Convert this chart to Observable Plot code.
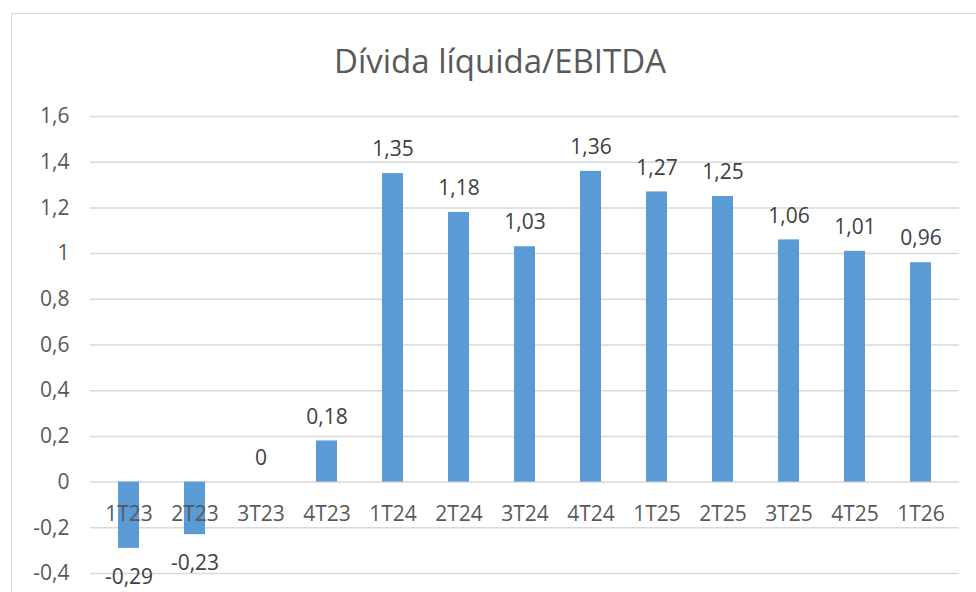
<!DOCTYPE html>
<html>
<head>
<meta charset="utf-8">
<script src="https://cdn.jsdelivr.net/npm/d3@7"></script>
<script src="https://cdn.jsdelivr.net/npm/@observablehq/plot@0.6"></script>
<style>
  html, body { margin: 0; padding: 0; background: #fff; overflow: hidden; width: 976px; height: 592px; }
  #frame { position: absolute; left: 11px; top: 13px; width: 1000px; height: 640px; border: 1.5px solid #d9d9d9; box-sizing: border-box; }
  #title { position: absolute; left: 0; top: 44px; width: 1000px; text-align: center; font-family: "Open Sans", sans-serif; font-size: 33px; line-height: 1; color: #595959; }
  #chart { position: absolute; left: 0; top: 0; }
</style>
</head>
<body>
<div id="frame"></div>
<div id="title">Dívida líquida/EBITDA</div>
<div id="chart"></div>
<script>
const categories = ["1T23", "2T23", "3T23", "4T23", "1T24", "2T24", "3T24", "4T24", "1T25", "2T25", "3T25", "4T25", "1T26"];
const values = [-0.29, -0.23, 0, 0.18, 1.35, 1.18, 1.03, 1.36, 1.27, 1.25, 1.06, 1.01, 0.96];
const yTicks = [-0.4, -0.2, 0, 0.2, 0.4, 0.6, 0.8, 1, 1.2, 1.4, 1.6];

const data = categories.map((c, i) => ({cat: c, value: values[i]}));
const fmt = d => String(+(+d).toFixed(2)).replace(".", ",");

const chart = Plot.plot({
  width: 976,
  height: 592,
  marginTop: 116,
  marginBottom: 19,
  marginLeft: 90,
  marginRight: 17,
  style: { fontFamily: "Open Sans, sans-serif", fontSize: "21px", color: "#595959", background: "transparent" },
  x: { domain: categories, paddingInner: 0.686, paddingOuter: 0.343, axis: null },
  y: { domain: [-0.4, 1.6] },
  marks: [
    Plot.ruleY(yTicks, { stroke: "#d9d9d9", strokeWidth: 1.5 }),
    Plot.axisY(yTicks, { tickSize: 0, tickPadding: 21, tickFormat: fmt, label: null, fontSize: 21, fill: "#595959" }),
    Plot.barY(data, { x: "cat", y: "value", fill: "#5B9BD5" }),
    Plot.text(data.filter(d => d.value >= 0), { x: "cat", y: "value", text: d => fmt(d.value), dy: -24, fontSize: 21, fill: "#404040" }),
    Plot.text(data.filter(d => d.value < 0), { x: "cat", y: "value", text: d => fmt(d.value), dy: 29, fontSize: 21, fill: "#404040" }),
    Plot.text(data, { x: "cat", y: () => 0, text: "cat", dy: 32, fontSize: 21, fill: "#595959" })
  ]
});
document.getElementById("chart").appendChild(chart);
</script>
</body>
</html>
